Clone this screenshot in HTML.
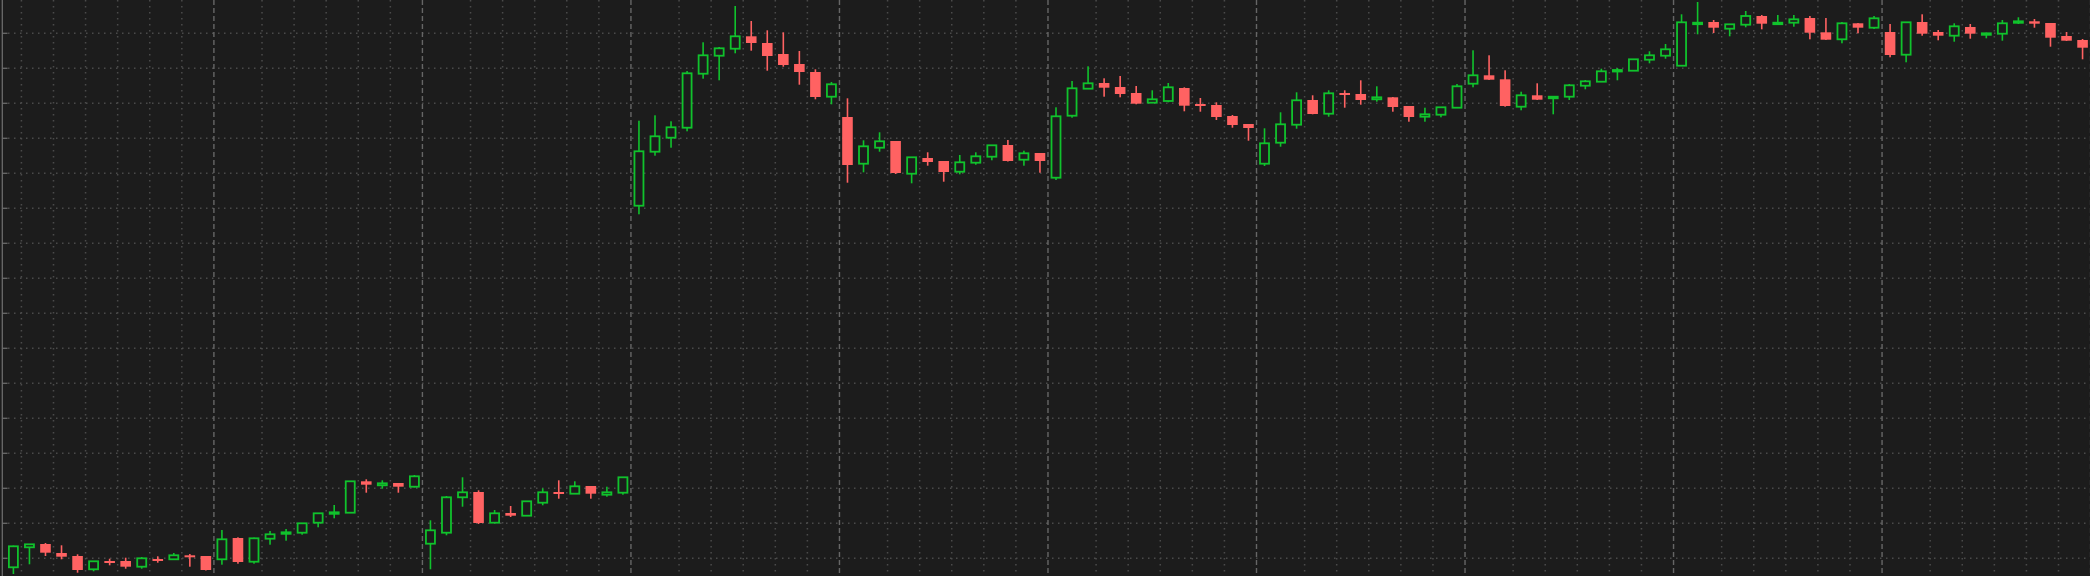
<!DOCTYPE html>
<html><head><meta charset="utf-8"><style>
html,body{margin:0;padding:0;background:#1c1c1c;}
svg{display:block;}
</style></head><body>
<svg id="chart" width="2090" height="576" xmlns="http://www.w3.org/2000/svg">
<rect x="0" y="0" width="2090" height="576" fill="#1c1c1c"/>
<g id="grid"></g>
<g id="axis"></g>
<g id="candles"></g>
</svg>
<script>
const opens  = [32.7,52.7,56,47,44,30.7,39,39,33.3,41,40.7,44.7,44,40.7,62,38.3,61.3,66.7,67.3,77.3,87,87.3,118.7,114.7,117,113.3,56.3,67.3,102.7,108,77.3,87,84.3,97.3,108,106.3,114,105.3,107.3,394.3,448.3,462.3,472.3,526.3,544.3,551.3,563.7,557,546,536,528,503.3,483,436.3,452.3,459,426.3,442,439,428.3,437.3,443.3,455,440.3,447,422.3,484.3,511.3,517,513,507,497.3,499,512,496,495,484,476,436.3,457.3,475.3,500,486.3,507,506,500.7,502.7,494,483.3,485.3,492.3,516.3,524.7,520.7,493.3,504.7,501.7,503.3,514.3,518.3,529.3,529.3,540.3,544.3,534.3,576.7,578,571.3,575.3,584,576.7,577.3,582,567.7,560.7,576.7,572.3,568,545.3,578,568,564.3,573,566,566.3,578,578.7,577,564,560];
const highs  = [54.7,56,57,54.7,45.7,39,41.3,42.3,43,43.7,47,46,44,70,62.7,62.7,69,71,77.3,87,95,119,120.7,119.7,117,125,79.7,104,122.7,109.7,90,94,99,111.7,119.7,118.7,114,113.3,123,479.3,484.7,478.7,529,557.7,553,594,579,569.7,567.7,549,530.7,518,501.7,459.7,467.7,459,443,447.7,439,445,447.7,455,460,449.3,447,492.7,519,533.7,521.7,524,514,509.7,517,512.7,502,497.7,485,476,471.7,487.7,507.7,504.7,509.7,509.7,519.7,513.7,503,494,492.3,493,516,549.7,544.7,529.7,508.3,516.7,503.7,516,520,531.3,532,541,548.7,556,585.7,598,580,576.5,589,585,585,585,584,582,578,577,584,576,578,585.7,570,576.7,576,567.7,580,582.7,581,577,568,561];
const lows   = [26,35.7,44,40.7,27.3,28.7,34.7,31.3,31.3,37.3,40,33.3,29.5,35.3,36.3,36.3,55.3,59.3,65.3,72.7,81.7,87,107.3,111.3,107.3,112.3,30.7,64.7,93.3,76,77,83,84,94.7,101.3,106,101.3,103.3,105.3,385.7,444.3,452.3,468.7,521.3,519.7,546.7,549.3,529.3,533.3,515.3,500.7,495.7,417.3,427.7,448.3,426,416.7,434.3,418.3,425.7,435.3,439.7,438.5,434.3,427.3,420,482.3,511,503.3,502.7,495.7,497,497.7,488.7,488.3,480,472.3,459.3,434,453.3,471.3,485.7,483.3,492.3,495.3,498.3,488.3,478.3,478.3,482.7,492,512.7,520,493.3,489.7,500,485.7,500,510.7,518,519.7,529,536.7,541.3,534,565.7,567,563.7,572.7,570.7,576,573.3,560.7,560,556.7,566.7,571,542.7,537.7,564.3,559.7,558.3,561.3,561.7,559.3,576,572.3,553.3,559,540.7];
const closes = [53.7,55.7,47.3,43.3,30,38.7,38.3,33.3,41.7,40.3,44.7,43.3,30,60.7,38,61.7,65.7,67.7,76.7,86.7,87.7,118.7,115.3,116.7,113.3,123.7,69.7,102.7,107.7,77,86.7,84.3,98.7,107.7,106,113.7,106.3,107.7,122.7,448.7,463.7,472.7,526.7,544.7,551.7,563.7,557,544,535,528,503,515.7,435,453.7,458.7,427,442.7,438,428,437.7,443.7,454.7,439,446.7,439,483.7,511.7,516.7,512.3,506,496.3,500.7,512.7,494.3,494,483,475,472,456.7,475.7,499.7,486,506.7,505,500,502.7,493,483,485.7,492.7,513.7,524.7,520.3,494,504.7,500.3,503.3,514.7,518.7,528.7,530,540.7,544.7,550.7,577.7,577.3,572.3,575.7,584,576.3,577.3,580.7,567.3,560.3,576.7,572.3,581.7,545,577.7,566.3,564.3,573.7,566.3,566.7,576.7,578.7,576.3,562.3,559.3,552.3];
const gridPriceStep = 35;
const gridPriceTop = 566.7;
const barsPerSession = 13;

const NS = "http://www.w3.org/2000/svg";
const X0 = 13.4, STEP = 16.04;
function xScale(i){ return X0 + STEP * i; }
function yScale(p){ return 600 - p; }
function mk(tag, attrs, parent){
  const el = document.createElementNS(NS, tag);
  for (const k in attrs) el.setAttribute(k, attrs[k]);
  parent.appendChild(el);
  return el;
}
const grid = document.getElementById('grid');
const axis = document.getElementById('axis');
const cg = document.getElementById('candles');

// horizontal grid
for (let p = gridPriceTop; yScale(p) < 576; p -= gridPriceStep) {
  const y = yScale(p);
  const l = mk('line', {x1: 8, x2: 2090, y1: y, y2: y, stroke: '#4a4a4a', 'stroke-width': 1.5, 'stroke-dasharray': '1.5 4.5'}, grid);
  
  
  const t = mk('line', {x1: 2, x2: 7.5, y1: y, y2: y, stroke: '#6a6a6a', 'stroke-width': 1.3}, axis);
  
  
}
const ax = mk('line', {x1: 2.3, x2: 2.3, y1: 0, y2: 576, stroke: '#6a6a6a', 'stroke-width': 1.3}, axis);



// vertical grid
const n = closes.length;
for (let k = 0; k < n; k++) {
  const x = xScale(k + 0.5);
  const r = ((k - (barsPerSession - 1)) % barsPerSession + barsPerSession) % barsPerSession;
  if (k >= barsPerSession - 1 && r === 0) {
    const l = mk('line', {x1: x, x2: x, y1: 0, y2: 576, stroke: '#666', 'stroke-width': 1.4, 'stroke-dasharray': '5 3'}, grid);
    
    
  } else if (r % 2 === 1 && (r >= 3 || k < barsPerSession - 1)) {
    const l = mk('line', {x1: x, x2: x, y1: 0, y2: 576, stroke: '#4a4a4a', 'stroke-width': 1.5, 'stroke-dasharray': '1.5 4.5'}, grid);
    
    
  }
}

// candles
const GREEN = '#10c22c', RED = '#ff6262';
for (let i = 0; i < n; i++) {
  const x = xScale(i);
  const up = closes[i] >= opens[i];
  const col = up ? GREEN : RED;
  const g = mk('g', {}, cg);
  
  
  const yt = yScale(Math.max(opens[i], closes[i]));
  const yb = yScale(Math.min(opens[i], closes[i]));
  const w = mk('line', {x1: x, x2: x, y1: yScale(highs[i]), y2: yScale(lows[i]), stroke: col, 'stroke-width': 1.6}, g);
  
  
  let b;
  if (up) {
    const h = Math.max(yb - yt, 1.5);
    b = mk('rect', {x: x - 4.5, y: yt, width: 9, height: h, fill: '#1c1c1c', stroke: col, 'stroke-width': 1.8}, g);
  } else {
    const h = Math.max(yb - yt, 2);
    b = mk('rect', {x: x - 5.3, y: yt, width: 10.6, height: h, fill: col}, g);
  }
  
  
}
</script>
</body></html>
